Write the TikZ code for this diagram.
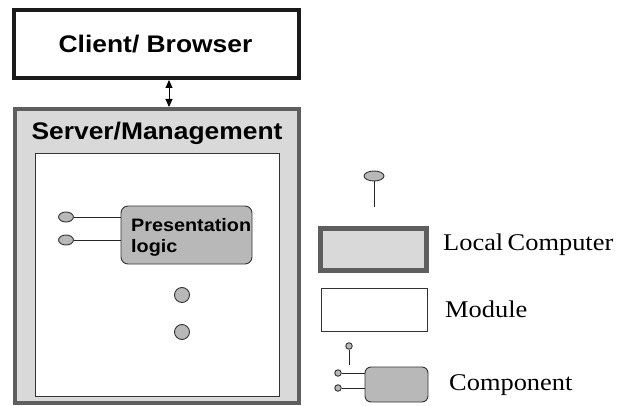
\documentclass[tikz,border=0pt]{standalone}
\usepackage{fontspec}
\setmainfont{Liberation Serif}
\newfontfamily\arialfont{Liberation Sans}
\usetikzlibrary{arrows.meta,shapes.geometric}
\definecolor{clientline}{HTML}{1A1A1A}
\definecolor{servline}{HTML}{5E5E5E}
\definecolor{servfill}{HTML}{D9D9D9}
\definecolor{compfill}{HTML}{B8B8B8}
\definecolor{thinline}{HTML}{333333}
\newcommand{\wide}[1]{\scalebox{1.1}[1]{#1}}
\tikzset{
  clientbox/.style={draw=clientline, line width=4pt, fill=white, rectangle, inner sep=0pt},
  localbox/.style={draw=servline, line width=4pt, fill=servfill, rectangle, inner sep=0pt},
  modbox/.style={draw=thinline, line width=0.9pt, fill=white, rectangle, inner sep=0pt},
  compbox/.style={draw=thinline, line width=0.9pt, fill=compfill, rectangle, rounded corners=7pt, inner sep=0pt},
  port/.style={draw=thinline, line width=0.9pt, fill=compfill, ellipse, inner sep=0pt},
  dot/.style={draw=thinline, line width=0.9pt, fill=compfill, circle, inner sep=0pt},
  wire/.style={draw=black!85, line width=0.9pt},
  headfont/.style={font=\arialfont\bfseries\fontsize{24}{28}\selectfont},
  compfont/.style={font=\arialfont\bfseries\fontsize{18}{21}\selectfont},
  legfont/.style={font=\fontsize{24}{28}\selectfont},
  txt/.style={inner sep=0pt}
}
\begin{document}
\begin{tikzpicture}[x=1pt,y=-1pt]
\useasboundingbox (0,0) rectangle (623,406);
% main boxes
\node[clientbox, minimum width=285pt, minimum height=68pt] (client) at (156.5,44) {};
\node[txt, headfont, anchor=base] (clienttxt) at (155.5,53) {\wide{Client/ Browser}};
\node[localbox, minimum width=284pt, minimum height=294pt] (server) at (157,256) {};
\node[txt, headfont, anchor=base] (servertxt) at (157,140) {\wide{Server/Management}};
\coordinate (ax) at (169,0);
\draw[line width=0.9pt, {Triangle[width=7pt,length=8pt]}-{Triangle[width=7pt,length=8pt]}] (client.south -| ax) -- (server.north -| ax);
% inner module
\node[modbox, minimum width=244pt, minimum height=243pt] (module) at (157,274.5) {};
% presentation logic component
\node[compbox, minimum width=131pt, minimum height=58pt] (pres) at (186.5,235) {};
\node[txt, compfont, anchor=north west, align=left] (prestxt) at (131,218) {\wide{Presentation}\\\wide{logic}};
\node[port, minimum width=15pt, minimum height=10pt] (p1) at (66,217) {};
\node[port, minimum width=15pt, minimum height=10pt] (p2) at (66,240) {};
\draw[wire] (p1.east) -- (pres.west |- p1.east);
\draw[wire] (p2.east) -- (pres.west |- p2.east);
\node[dot, minimum size=15pt] (d1) at (182,295) {};
\node[dot, minimum size=15pt] (d2) at (182,332) {};
% legend
\node[port, minimum width=20pt, minimum height=10pt] (lport) at (374,176) {};
\coordinate (lstem) at (374,207);
\draw[wire] (lport.south) -- (lstem);
\node[localbox, line width=5pt, minimum width=106pt, minimum height=42pt] (leglocal) at (373.5,249.5) {};
\node[txt, legfont, anchor=base west] (leglocaltxt) at (443,250) {\wide{Local\,Computer}};
\node[modbox, minimum width=106pt, minimum height=43pt] (legmod) at (374,309.5) {};
\node[txt, legfont, anchor=base west] (legmodtxt) at (445,317) {\wide{Module}};
\node[compbox, rounded corners=6pt, minimum width=63pt, minimum height=35pt] (legcomp) at (396.5,384.5) {};
\node[txt, legfont, anchor=base west] (legcomptxt) at (449,390) {\wide{Component}};
\node[dot, minimum size=6.5pt] (lc1) at (338,373) {};
\node[dot, minimum size=6.5pt] (lc2) at (338,388) {};
\draw[wire] (lc1.east) -- (legcomp.west |- lc1.east);
\draw[wire] (lc2.east) -- (legcomp.west |- lc2.east);
\node[dot, minimum size=6.5pt] (lc3) at (349,346) {};
\coordinate (lc3end) at (349,365);
\draw[wire] (lc3.south) -- (lc3end);
\end{tikzpicture}
\end{document}
